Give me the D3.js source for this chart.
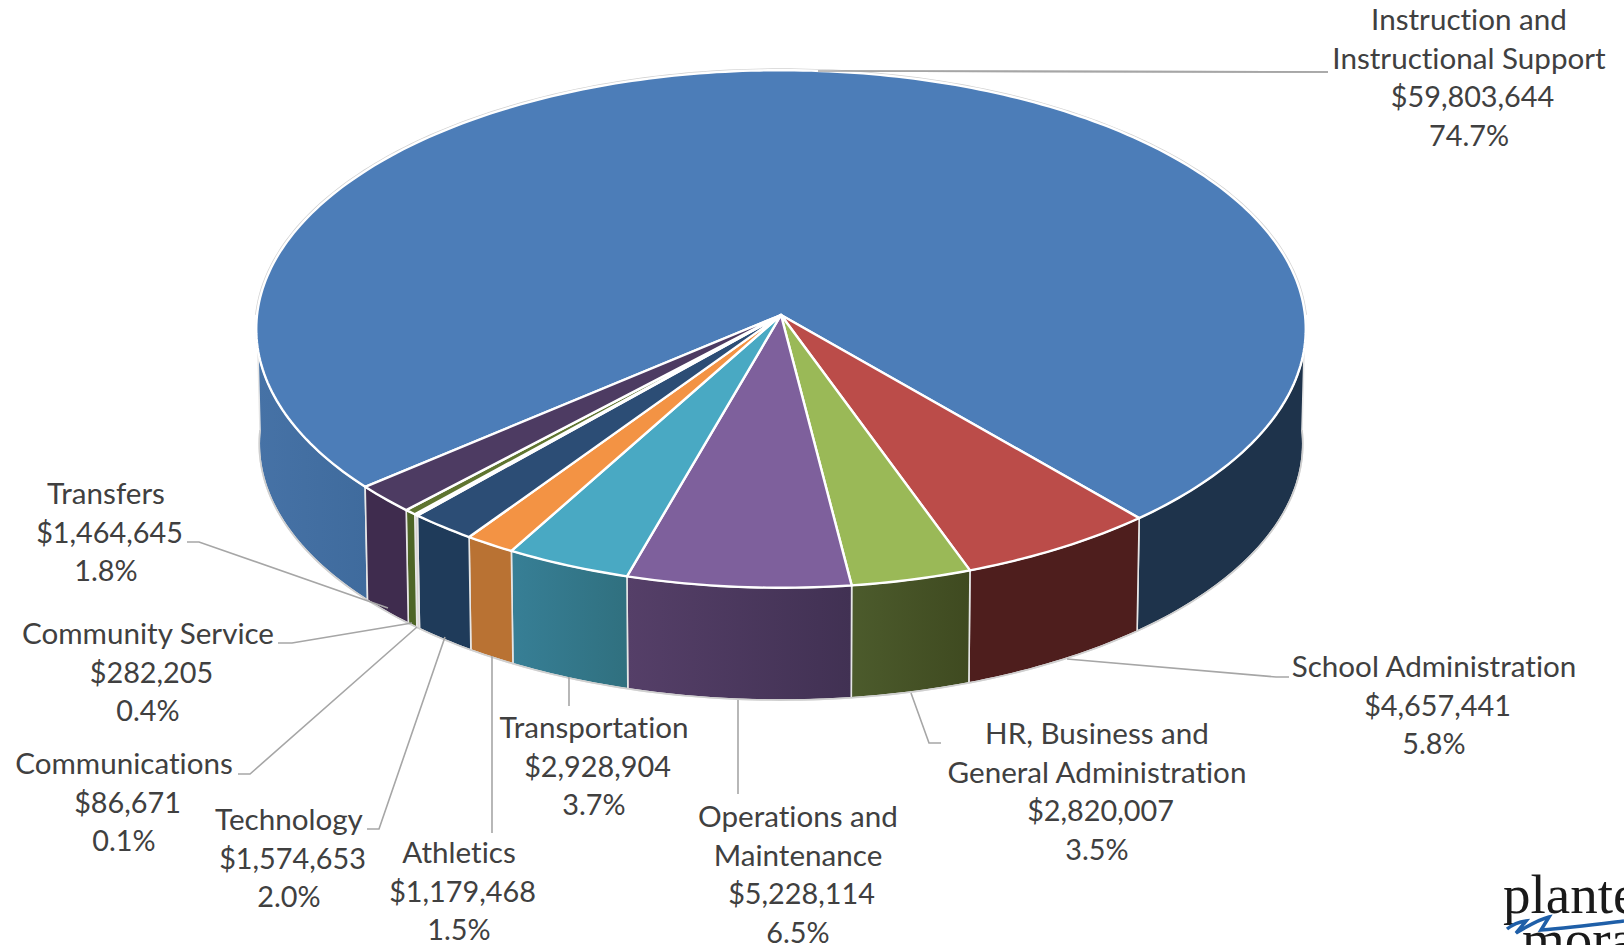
<!DOCTYPE html>
<html>
<head>
<meta charset="utf-8">
<script src="https://cdn.jsdelivr.net/npm/d3@7"></script>
<style>
  html, body { margin: 0; background: #fff; overflow: hidden; }
  text { font-family: Lato, "Open Sans", sans-serif; font-size: 29.6px; fill: #404040; font-variant-ligatures: none; }
  .num { font-size: 28.8px; }
  .leader { fill: none; stroke: #a6a6a6; stroke-width: 1.6; }
  .top { stroke: #fff; stroke-width: 2.4; stroke-linejoin: round; }
  .wall { stroke: #e6e6e6; stroke-width: 1.6; stroke-linejoin: round; }
  .logo { font-family: "Liberation Serif", serif; font-size: 55px; fill: #1a1a1a; }
</style>
</head>
<body>
<svg id="chart" width="1624" height="945"></svg>
<script>
// Chart values, clockwise from the first slice
var categories = [
  "Instruction and\nInstructional Support",
  "School Administration",
  "HR, Business and\nGeneral Administration",
  "Operations and\nMaintenance",
  "Transportation",
  "Athletics",
  "Technology",
  "Communications",
  "Community Service",
  "Transfers"
];
var values = [59803644, 4657441, 2820007, 5228114, 2928904, 1179468, 1574653, 86671, 282205, 1464645];

// Colours
var topColors = ["#4c7db8", "#bb4c49", "#9ab957", "#7e609c", "#49a9c3", "#f39344", "#2c4d75", "#772c2a", "#5f7530", "#4d3b62"];
var wallColors = [
  ["#1e334b", "#1e334b"],
  ["#4e1e1d", "#4e1e1d"],
  ["#4c5b2c", "#3f4a20"],
  ["#553f68", "#413153"],
  ["#377f96", "#30707f"],
  ["#b97233", "#b97233"],
  ["#1f3b5a", "#1f3b5a"],
  ["#d9cfcf", "#d9cfcf"],
  ["#4e6526", "#4e6526"],
  ["#3f2c4e", "#3f2c4e"]
];
var firstWallLeft = ["#4672a6", "#3f6b9d"];

// Label layout: centre x, first baseline, in the same order as categories
var labelX = [1469, 1434, 1097, 798, 594, 459, 289, 124, 148, 106];
var labelY = [30, 677, 744, 827, 738, 863, 830, 774, 644, 504];
var lineGap = 38.7;
var moneyShift = 3.5;

var leaders = [
  [[818, 71], [1328, 72]],
  [[1067, 659], [1276, 677], [1289, 677]],
  [[911, 693], [929, 743], [941, 743]],
  [[738, 700], [738, 794]],
  [[569, 677], [569, 706]],
  [[492, 656], [492, 833]],
  [[445, 637], [379, 829], [367, 829]],
  [[417, 627], [250, 774], [238, 774]],
  [[412, 623], [292, 643], [278, 643]],
  [[388, 608], [199, 542], [187, 542]]
];

var svg = d3.select("#chart");
var defs = svg.append("defs");
var total = d3.sum(values);
var money = d3.format("$,");
var percent = d3.format(".1%");
var deg = Math.PI / 180;

// Pie angles, measured clockwise from the top
var pie = d3.pie().sort(null).value(function(d) { return d; })
  .startAngle(230 * deg).endAngle(590 * deg);
var slices = pie(values);

// Tilted disc, with a little perspective so the centre sits above the ellipse middle
var tilt = { cx: 781, cy: 315, rx: 524, ry: 258, k: 0.054 };
var floor = { cx: 781, cy: 430, rx: 521, ry: 255.5, k: 0.054 };

function project(disc, angle) {
  var u = Math.sin(angle), v = -Math.cos(angle), w = 1 - disc.k * v;
  return [disc.cx + disc.rx * u / w, disc.cy + disc.ry * v / w];
}

function rim(disc, a0, a1) {
  var n = Math.max(2, Math.ceil((a1 - a0) / deg));
  return d3.range(n + 1).map(function(i) {
    return project(disc, a0 + (a1 - a0) * i / n);
  });
}

var line = d3.line();

// Side walls, only the front half of the disc shows
var wallGroup = svg.append("g");
var wallIndex = 0;
slices.forEach(function(s, i) {
  [90, 450].forEach(function(from) {
    var a0 = Math.max(s.startAngle, from * deg);
    var a1 = Math.min(s.endAngle, (from + 180) * deg);
    if (a1 <= a0) return;
    var pts = rim(tilt, a0, a1).concat(rim(floor, a0, a1).reverse());
    var xs = d3.extent(pts, function(p) { return p[0]; });
    var pair = (i === 0 && from === 90 && a0 > 180 * deg) ? firstWallLeft : wallColors[i];
    var id = "wall" + (wallIndex++);
    var grad = defs.append("linearGradient").attr("id", id)
      .attr("gradientUnits", "userSpaceOnUse")
      .attr("x1", xs[0]).attr("x2", xs[1]).attr("y1", 0).attr("y2", 0);
    grad.append("stop").attr("offset", 0).attr("stop-color", pair[0]);
    grad.append("stop").attr("offset", 1).attr("stop-color", pair[1]);
    wallGroup.append("path")
      .attr("class", "wall")
      .attr("d", line(pts) + "Z")
      .attr("fill", "url(#" + id + ")");
  });
});

// Outline of the lower edge of the walls
svg.append("path")
  .attr("d", line(rim(floor, 90 * deg, 270 * deg)))
  .attr("fill", "none")
  .attr("stroke", "#cfcfcf")
  .attr("stroke-width", 1.6);

// Grey edge round the back half of the top face
svg.append("path")
  .attr("d", line(rim(tilt, 270 * deg, 450 * deg)))
  .attr("fill", "none")
  .attr("stroke", "#d2d2d2")
  .attr("stroke-width", 3.8);

// Leader lines sit under the top face
svg.append("g").selectAll("path")
  .data(leaders)
  .join("path")
  .attr("class", "leader")
  .attr("d", function(d) { return line(d); });

// Top face
svg.append("g").selectAll("path")
  .data(slices)
  .join("path")
  .attr("class", "top")
  .attr("fill", function(d, i) { return topColors[i]; })
  .attr("d", function(d) {
    return line([[tilt.cx, tilt.cy]].concat(rim(tilt, d.startAngle, d.endAngle))) + "Z";
  });

// Leader of the biggest slice runs along the top of the disc
svg.append("path")
  .attr("class", "leader")
  .attr("d", line(leaders[0]));

// Data labels
var labels = svg.append("g").selectAll("text")
  .data(categories)
  .join("text")
  .attr("text-anchor", "middle");

labels.each(function(name, i) {
  var rows = name.split("\n").concat([money(values[i]), percent(values[i] / total)]);
  d3.select(this).selectAll("tspan")
    .data(rows)
    .join("tspan")
    .attr("class", function(d, j) { return j >= rows.length - 2 ? "num" : null; })
    .attr("x", function(d, j) { return labelX[i] + (j === rows.length - 2 ? moneyShift : 0); })
    .attr("y", function(d, j) { return labelY[i] + j * lineGap; })
    .text(function(d) { return d; });
});

// Logo in the corner, cut off by the page edge
var logo = svg.append("g");
logo.append("text").attr("class", "logo").attr("x", 1503).attr("y", 913).text("plante");
logo.append("text").attr("class", "logo").attr("x", 1522).attr("y", 958).text("moran");
logo.append("path")
  .attr("d", "M1507,929 C1512,925 1518,922 1526,921 L1516,933 C1526,927 1540,919 1549,917 L1541,930 C1570,928 1600,924 1624,921")
  .attr("fill", "none")
  .attr("stroke", "#1f5fa8")
  .attr("stroke-width", 3.5);
</script>
</body>
</html>
